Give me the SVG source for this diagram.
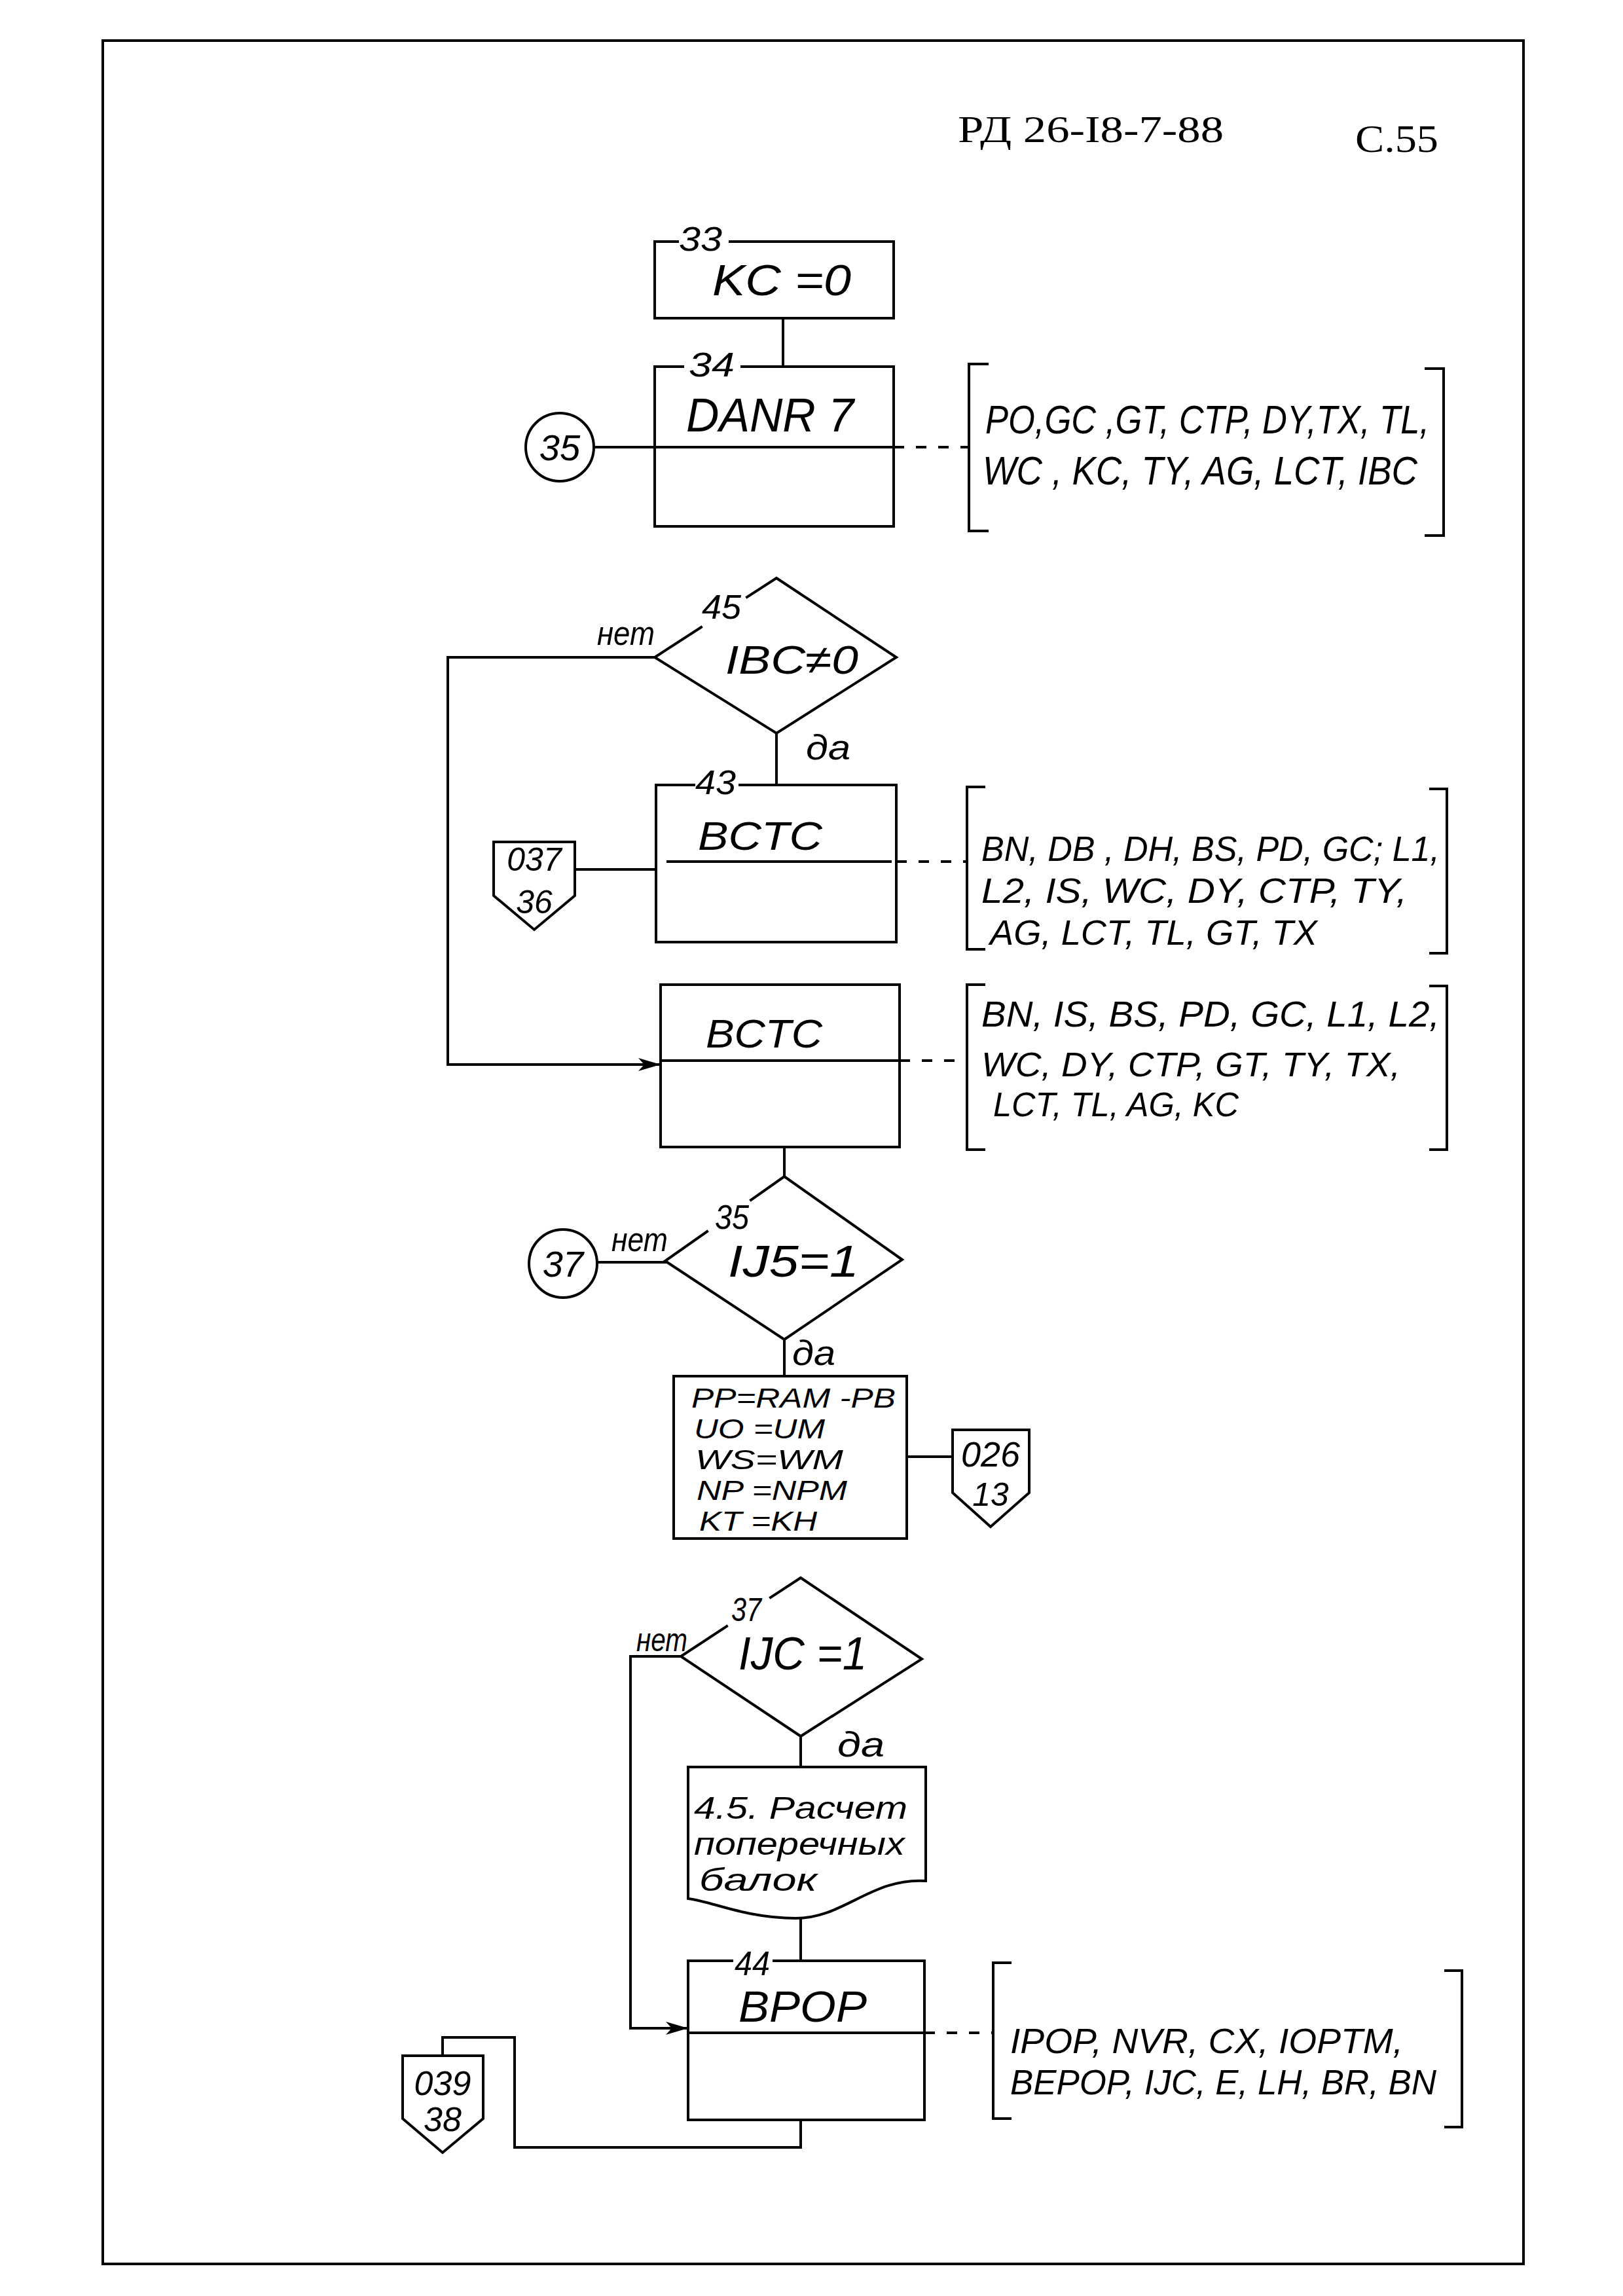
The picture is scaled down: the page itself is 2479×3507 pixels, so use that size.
<svg xmlns="http://www.w3.org/2000/svg" width="2479" height="3507" viewBox="0 0 2479 3507">
<defs>
<marker id="arr" markerWidth="34" markerHeight="22" refX="32" refY="11" orient="auto" markerUnits="userSpaceOnUse">
<path d="M0,1 L34,11 L0,21 L9,11 Z" fill="#000"/>
</marker>
<style>
.ln{fill:none;stroke:#000;stroke-width:4;stroke-linecap:square;stroke-linejoin:miter}
.dash{stroke-dasharray:16 18;stroke-linecap:butt}
.hw{font-family:"Liberation Sans","DejaVu Sans",sans-serif;font-style:italic;fill:#000}
.tw{font-family:"Liberation Serif","DejaVu Serif",serif;fill:#000}
.ctr{text-anchor:middle}
</style>
</defs>
<rect width="2479" height="3507" fill="#fff"/>
<rect x="157" y="62" width="2170" height="3396" class="ln"/>
<g id="header">
<text class="tw" x="1463" y="217" font-size="58" textLength="406" lengthAdjust="spacingAndGlyphs">РД 26-I8-7-88</text>
<text class="tw" x="2070" y="232" font-size="60" textLength="127" lengthAdjust="spacingAndGlyphs">С.55</text>
</g>
<g id="connectors">
<path class="ln" d="M1196,486 V560"/>
<path class="ln" d="M907,683 H1000"/>
<path class="ln dash" d="M1365,683 H1480"/>
<path class="ln" d="M1000,1004 H684 V1626 H1007" marker-end="url(#arr)"/>
<path class="ln" d="M1186,1120 V1199"/>
<path class="ln" d="M878,1328 H1002"/>
<path class="ln dash" d="M1369,1316 H1477"/>
<path class="ln dash" d="M1374,1620 H1477"/>
<path class="ln" d="M1198,1752 V1797"/>
<path class="ln" d="M912,1928 H1016"/>
<path class="ln" d="M1198,2046 V2102"/>
<path class="ln" d="M1385,2225 H1455"/>
<path class="ln" d="M1040,2530 H963 V3098 H1049" marker-end="url(#arr)"/>
<path class="ln" d="M1223,2652 V2699"/>
<path class="ln" d="M1223,2930 V2995"/>
<path class="ln dash" d="M1412,3105 H1517"/>
<path class="ln" d="M1223,3238 V3280 H786 V3112 H676 V3140"/>
<text class="hw" x="912" y="985" font-size="52" textLength="88" lengthAdjust="spacingAndGlyphs">нет</text>
<text class="hw" x="1231" y="1160" font-size="54" textLength="68" lengthAdjust="spacingAndGlyphs">да</text>
<text class="hw" x="934" y="1911" font-size="52" textLength="86" lengthAdjust="spacingAndGlyphs">нет</text>
<text class="hw" x="1210" y="2085" font-size="54" textLength="66" lengthAdjust="spacingAndGlyphs">да</text>
<text class="hw" x="972" y="2522" font-size="50" textLength="78" lengthAdjust="spacingAndGlyphs">нет</text>
<text class="hw" x="1279" y="2683" font-size="54" textLength="72" lengthAdjust="spacingAndGlyphs">да</text>
</g>
<g id="n33">
<path class="ln" d="M1035,369 H1000 V486 H1365 V369 H1115"/>
<text class="hw" x="1037" y="383" font-size="52" textLength="66" lengthAdjust="spacingAndGlyphs">33</text>
<text class="hw" x="1088" y="451" font-size="66" textLength="212" lengthAdjust="spacingAndGlyphs">KC =0</text>
</g>
<g id="n34">
<path class="ln" d="M1043,560 H1000 V804 H1365 V560 H1133"/>
<path class="ln" d="M1000,683 H1365"/>
<text class="hw" x="1052" y="575" font-size="52" textLength="70" lengthAdjust="spacingAndGlyphs">34</text>
<text class="hw" x="1048" y="659" font-size="72" textLength="256" lengthAdjust="spacingAndGlyphs">DANR 7</text>
</g>
<g id="c35">
<circle class="ln" cx="855" cy="683" r="52"/>
<text class="hw ctr" x="855" y="703" font-size="56">35</text>
</g>
<g id="b1">
<path class="ln" d="M1508,556 H1480 V811 H1508 M2178,563 H2205 V818 H2178"/>
<text class="hw" x="1505" y="662" font-size="62" textLength="678" lengthAdjust="spacingAndGlyphs">PO,GC ,GT, CTP, DY,TX, TL,</text>
<text class="hw" x="1501" y="740" font-size="62" textLength="664" lengthAdjust="spacingAndGlyphs">WC , KC, TY, AG, LCT, IBC</text>
</g>
<g id="d45">
<path class="ln" d="M1071,958 L1000,1004 L1186,1120 L1369,1004 L1186,883 L1141,912"/>
<text class="hw" x="1072" y="945" font-size="52" textLength="60" lengthAdjust="spacingAndGlyphs">45</text>
<text class="hw" x="1108" y="1029" font-size="62" textLength="203" lengthAdjust="spacingAndGlyphs">IBC≠0</text>
</g>
<g id="n43">
<path class="ln" d="M1060,1199 H1002 V1439 H1369 V1199 H1130"/>
<path class="ln" d="M1020,1316 H1360"/>
<text class="hw" x="1062" y="1213" font-size="52" textLength="62" lengthAdjust="spacingAndGlyphs">43</text>
<text class="hw" x="1066" y="1298" font-size="62" textLength="190" lengthAdjust="spacingAndGlyphs">BCTC</text>
</g>
<g id="p037">
<path class="ln" d="M754,1286 H878 V1368 L816,1420 L754,1368 Z"/>
<text class="hw ctr" x="816" y="1330" font-size="50">037</text>
<text class="hw ctr" x="816" y="1395" font-size="50">36</text>
</g>
<g id="b2">
<path class="ln" d="M1503,1202 H1477 V1450 H1503 M2185,1205 H2210 V1456 H2185"/>
<text class="hw" x="1499" y="1315" font-size="54" textLength="700" lengthAdjust="spacingAndGlyphs">BN, DB , DH, BS, PD, GC; L1,</text>
<text class="hw" x="1499" y="1379" font-size="54" textLength="650" lengthAdjust="spacingAndGlyphs">L2, IS, WC, DY, CTP, TY,</text>
<text class="hw" x="1512" y="1443" font-size="54" textLength="500" lengthAdjust="spacingAndGlyphs">AG, LCT, TL, GT, TX</text>
</g>
<g id="n_bctc2">
<rect class="ln" x="1009" y="1504" width="365" height="248"/>
<path class="ln" d="M1009,1620 H1374"/>
<text class="hw" x="1078" y="1600" font-size="62" textLength="178" lengthAdjust="spacingAndGlyphs">BCTC</text>
</g>
<g id="b3">
<path class="ln" d="M1503,1504 H1477 V1756 H1503 M2185,1506 H2210 V1756 H2185"/>
<text class="hw" x="1499" y="1568" font-size="56" textLength="700" lengthAdjust="spacingAndGlyphs">BN, IS, BS, PD, GC, L1, L2,</text>
<text class="hw" x="1499" y="1644" font-size="52" textLength="640" lengthAdjust="spacingAndGlyphs">WC, DY, CTP, GT, TY, TX,</text>
<text class="hw" x="1517" y="1705" font-size="52" textLength="375" lengthAdjust="spacingAndGlyphs">LCT, TL, AG, KC</text>
</g>
<g id="d35">
<path class="ln" d="M1080,1881 L1016,1926 L1198,2046 L1378,1924 L1198,1797 L1147,1833"/>
<text class="hw" x="1092" y="1877" font-size="52" textLength="52" lengthAdjust="spacingAndGlyphs">35</text>
<text class="hw" x="1112" y="1950" font-size="68" textLength="200" lengthAdjust="spacingAndGlyphs">IJ5=1</text>
</g>
<g id="c37">
<circle class="ln" cx="860" cy="1930" r="52"/>
<text class="hw ctr" x="860" y="1950" font-size="56">37</text>
</g>
<g id="n_assign">
<rect class="ln" x="1029" y="2102" width="356" height="248"/>
<text class="hw" x="1056" y="2150" font-size="42" textLength="312" lengthAdjust="spacingAndGlyphs">PP=RAM -PB</text>
<text class="hw" x="1060" y="2197" font-size="42" textLength="200" lengthAdjust="spacingAndGlyphs">UO =UM</text>
<text class="hw" x="1062" y="2244" font-size="42" textLength="226" lengthAdjust="spacingAndGlyphs">WS=WM</text>
<text class="hw" x="1064" y="2291" font-size="42" textLength="230" lengthAdjust="spacingAndGlyphs">NP =NPM</text>
<text class="hw" x="1068" y="2338" font-size="42" textLength="180" lengthAdjust="spacingAndGlyphs">KT =KH</text>
</g>
<g id="p026">
<path class="ln" d="M1455,2184 H1572 V2280 L1513,2332 L1455,2280 Z"/>
<text class="hw ctr" x="1513" y="2240" font-size="54">026</text>
<text class="hw ctr" x="1513" y="2300" font-size="50">13</text>
</g>
<g id="d37">
<path class="ln" d="M1110,2484 L1040,2530 L1223,2652 L1408,2534 L1223,2410 L1177,2440"/>
<text class="hw" x="1117" y="2476" font-size="50" textLength="46" lengthAdjust="spacingAndGlyphs">37</text>
<text class="hw" x="1128" y="2550" font-size="70" textLength="196" lengthAdjust="spacingAndGlyphs">IJC =1</text>
</g>
<g id="doc45">
<path class="ln" d="M1051,2699 H1414 V2873 C1330,2868 1290,2930 1215,2930 C1140,2930 1090,2905 1051,2900 Z"/>
<text class="hw" x="1060" y="2778" font-size="48" textLength="326" lengthAdjust="spacingAndGlyphs">4.5. Расчет</text>
<text class="hw" x="1060" y="2833" font-size="48" textLength="322" lengthAdjust="spacingAndGlyphs">поперечных</text>
<text class="hw" x="1068" y="2888" font-size="48" textLength="180" lengthAdjust="spacingAndGlyphs">балок</text>
</g>
<g id="n44">
<path class="ln" d="M1118,2995 H1051 V3238 H1412 V2995 H1182"/>
<path class="ln" d="M1051,3105 H1412"/>
<text class="hw" x="1122" y="3017" font-size="52" textLength="54" lengthAdjust="spacingAndGlyphs">44</text>
<text class="hw" x="1128" y="3088" font-size="66" textLength="196" lengthAdjust="spacingAndGlyphs">BPOP</text>
</g>
<g id="b4">
<path class="ln" d="M1543,2998 H1517 V3236 H1543 M2208,3010 H2233 V3249 H2208"/>
<text class="hw" x="1543" y="3136" font-size="54" textLength="600" lengthAdjust="spacingAndGlyphs">IPOP, NVR, CX, IOPTM,</text>
<text class="hw" x="1543" y="3199" font-size="54" textLength="651" lengthAdjust="spacingAndGlyphs">BEPOP, IJC, E, LH, BR, BN</text>
</g>
<g id="p039">
<path class="ln" d="M615,3140 H738 V3236 L676,3288 L615,3236 Z"/>
<text class="hw ctr" x="676" y="3200" font-size="52">039</text>
<text class="hw ctr" x="676" y="3255" font-size="52">38</text>
</g>
</svg>
